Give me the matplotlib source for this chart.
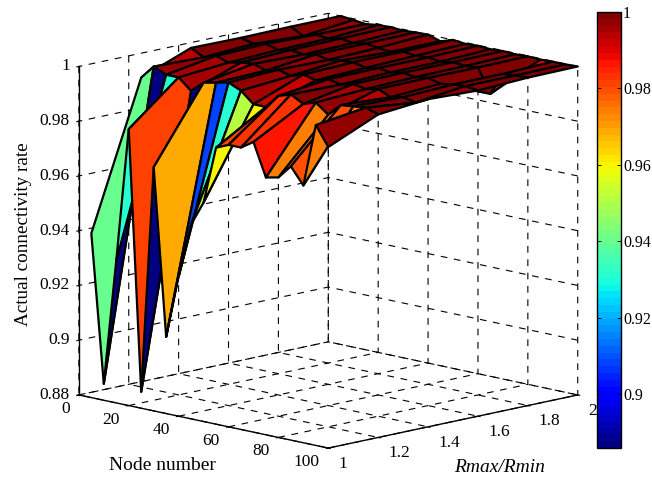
import numpy as np
import matplotlib
matplotlib.use('Agg')
import matplotlib.pyplot as plt
from matplotlib.colors import Normalize
from matplotlib.cm import ScalarMappable

plt.rcParams['font.family'] = ['Liberation Serif', 'DejaVu Serif']

node_number = [5, 10, 15, 20, 25, 30, 35, 40, 45, 50, 55, 60, 65, 70, 75, 80, 85, 90, 95, 100]
ratio = [1.0, 1.2, 1.4, 1.6, 1.8, 2.0]
rate_r10 = [.940, .886, .932, .981, .886, .969, .908, .931, .951, .960, .981, .983, .983, .986, .974, .975, .980, .974, .997, .990]
rate_r12 = [.993, .998, .996, .996, .992, .996, .997, .998, .996, .992, .992, .997, .9985, .996, .9975, .994, .9985, .999, .9995, .998]
rate_r14 = [1.0, .9975, .999, .9975, .9985, .999, .9975, .9988, .9975, .9990, .9978, .9992, .9982, .9994, .9985, .9995, .9975, .9985, .9975, .9997]
rate_r16 = [.9998, .9985, .9995, .9982, .9992, .9985, .9995, .9985, .9992, .9996, .9985, .9994, .9988, .9996, .9990, .9997, .9985, .9992, .9996, .9990]
rate_r18 = [1.0, .9975, .9990, .9985, .9995, .9988, .9996, .9990, .9985, .9996, .9990, .9994, .9988, .9996, .9992, .9996, .9910, .9992, .9996, .9998]
rate_r20 = [1.0, .9995, .9990, .9996, .9998, .9995, .9998, 1.0, .9985, 1.0, .9995, .9998, .9995, .9998, .9996, .9998, .9996, .9998, .9998, 1.0]
node_ticks = [0, 20, 40, 60, 80, 100]
ratio_ticks = [1, 1.2, 1.4, 1.6, 1.8, 2]
rate_ticks = [0.88, 0.9, 0.92, 0.94, 0.96, 0.98, 1]
bar_ticks = [0.9, 0.92, 0.94, 0.96, 0.98, 1]

Z = np.array([rate_r10, rate_r12, rate_r14, rate_r16, rate_r18, rate_r20]).T
X, Y = np.meshgrid(node_number, ratio, indexing='ij')

W, H = 652, 480
fig = plt.figure(figsize=(W / 100, H / 100), dpi=100, facecolor='white')
S = 584
cx, cy = 320.4, 238.6
ax = fig.add_axes([(cx - S / 2) / W, (H - cy - S / 2) / H, S / W, S / H], projection='3d', proj_type='ortho')
ax.patch.set_alpha(0)
ax.set_box_aspect((1, 1, 0.953))
ax.view_init(elev=12.3, azim=-45)

cmap = plt.get_cmap('jet', 64)
norm = Normalize(0.886, 1.0)
ax.plot_surface(X, Y, Z, rstride=1, cstride=1, facecolors=cmap(norm(Z)), shade=False,
                edgecolor='black', linewidth=1.6, antialiased=True)

ax.set_xlim(0, 100, view_margin=0)
ax.set_ylim(1, 2, view_margin=0)
ax.set_zlim(0.88, 1, view_margin=0)
ax.set_xticks(node_ticks)
ax.set_yticks(ratio_ticks)
ax.set_zticks(rate_ticks)
ax.set_xticklabels([str(v) for v in node_ticks], ha='right', va='center')
ax.set_yticklabels([f'{v:g}' for v in ratio_ticks], ha='left', va='center')
ax.set_zticklabels([f'{v:g}' for v in rate_ticks], ha='right', va='center')
for a in (ax.xaxis, ax.yaxis, ax.zaxis):
    a.set_pane_color((1, 1, 1, 0))
    a.pane.set_edgecolor((1, 1, 1, 0))
    a.line.set_color('black')
    a.line.set_linewidth(1.0)
    a._axinfo['grid'].update(color='black', linewidth=0.8, linestyle=(0, (6, 6)))
    a._axinfo['tick'].update(inward_factor=0.1, outward_factor=0.0)
    a.set_tick_params(labelsize=12.5, colors='black', pad=0)
ax.yaxis.set_tick_params(pad=1)
ax.zaxis.set_tick_params(pad=-4)
ax.grid(True)
ax.zaxis.set_ticks_position('lower')
ax.zaxis.set_label_position('lower')

fig.text(24 / W, 1 - 234 / H, 'Actual connectivity rate', rotation=90, ha='center', va='center', fontsize=13.8)
fig.text(162 / W, 1 - 465 / H, 'Node number', ha='center', va='center', fontsize=14)
fig.text(500 / W, 1 - 468 / H, 'Rmax/Rmin', ha='center', va='center', fontsize=14, style='italic')

cax = fig.add_axes([597 / W, 1 - 448 / H, 24 / W, 436 / H])
cb = fig.colorbar(ScalarMappable(norm=norm, cmap=cmap), cax=cax)
cb.set_ticks(bar_ticks)
cb.set_ticklabels([f'{v:g}' for v in bar_ticks])
cb.ax.tick_params(labelsize=11.5, direction='in', length=3, width=0.6, left=True, right=True, pad=1.5)
cb.outline.set_linewidth(1.0)

fig.savefig('out.png', dpi=100)
